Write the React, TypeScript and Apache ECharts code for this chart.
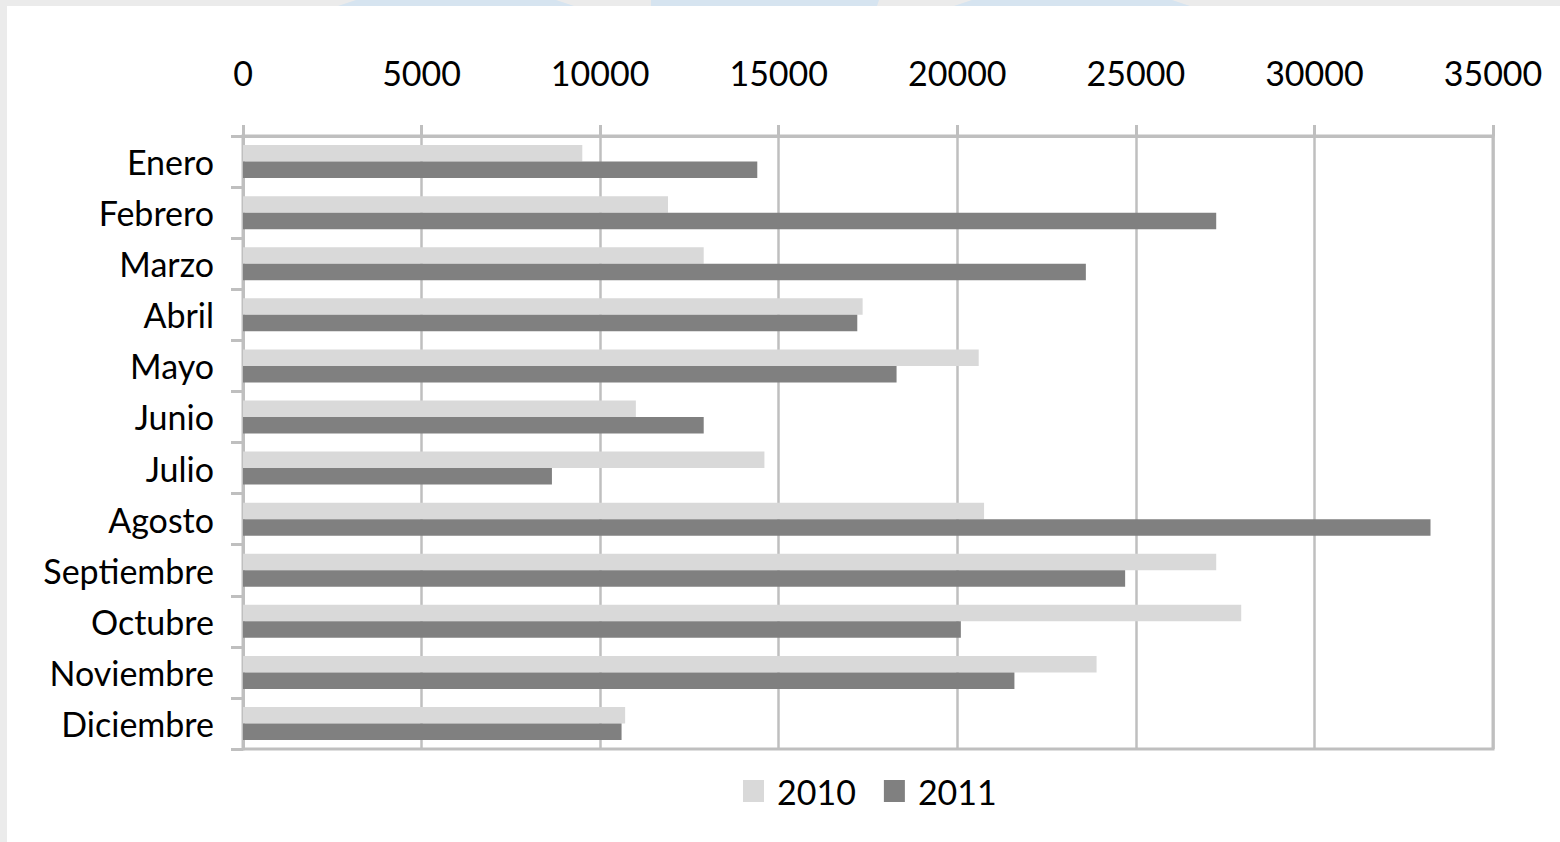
import React, { useEffect, useRef } from "react";
import * as echarts from "echarts";

const months = [
  "Enero", "Febrero", "Marzo", "Abril", "Mayo", "Junio",
  "Julio", "Agosto", "Septiembre", "Octubre", "Noviembre", "Diciembre",
];
const seriesNames = ["2010", "2011"];
const values2010 = [9500, 11900, 12900, 17350, 20600, 11000, 14600, 20750, 27250, 27950, 23900, 10700];
const values2011 = [14400, 27250, 23600, 17200, 18300, 12900, 8650, 33250, 24700, 20100, 21600, 10600];
const axisMin = 0;
const axisMax = 35000;
const axisStep = 5000;

const FONT = "Lato, 'Open Sans', sans-serif";
const GRID_COLOR = "#bfbfbf";

export default function App() {
  const ref = useRef<HTMLDivElement>(null);

  useEffect(() => {
    if (!ref.current) return;
    const chart = echarts.init(ref.current, undefined, { renderer: "svg" });
    chart.setOption({
      animation: false,
      backgroundColor: "#ffffff",
      textStyle: { fontFamily: FONT },
      graphic: [
        { type: "rect", silent: true, z: -10, shape: { x: 0, y: 0, width: 1560, height: 6 }, style: { fill: "#ebebeb" } },
        { type: "rect", silent: true, z: -10, shape: { x: 0, y: 0, width: 7, height: 842 }, style: { fill: "#ebebeb" } },
        { type: "polygon", silent: true, z: -9, shape: { points: [[338, 6], [574, 6], [556, 0], [356, 0]] }, style: { fill: "#d6e4f0" } },
        { type: "polygon", silent: true, z: -9, shape: { points: [[651, 6], [877, 6], [879, 0], [651, 0]] }, style: { fill: "#d6e4f0" } },
        { type: "polygon", silent: true, z: -9, shape: { points: [[954, 6], [1190, 6], [1172, 0], [972, 0]] }, style: { fill: "#d6e4f0" } },
      ],
      color: ["#d9d9d9", "#808080"],
      grid: {
        left: 243,
        right: 67,
        top: 136,
        bottom: 93,
        containLabel: false,
        show: true,
        borderColor: GRID_COLOR,
        borderWidth: 3,
        backgroundColor: "transparent",
      },
      legend: {
        data: seriesNames,
        left: 743,
        top: 774,
        padding: 0,
        itemWidth: 21,
        itemHeight: 22,
        itemGap: 28,
        icon: "rect",
        textStyle: { fontSize: 34, color: "#000", fontFamily: FONT, padding: [0, 0, 0, 8] },
      },
      xAxis: {
        type: "value",
        position: "top",
        min: axisMin,
        max: axisMax,
        interval: axisStep,
        axisLine: { show: true, lineStyle: { color: GRID_COLOR, width: 3 } },
        axisTick: { show: true, length: 11, lineStyle: { color: GRID_COLOR, width: 3 } },
        splitLine: { show: true, lineStyle: { color: GRID_COLOR, width: 2.5 } },
        axisLabel: {
          fontSize: 34,
          color: "#000",
          fontFamily: FONT,
          margin: 47,
          formatter: (v: number) => String(v),
        },
      },
      yAxis: {
        type: "category",
        data: months,
        inverse: true,
        axisLine: { show: true, lineStyle: { color: GRID_COLOR, width: 3 } },
        axisTick: { show: true, length: 12, lineStyle: { color: GRID_COLOR, width: 3 } },
        axisLabel: { fontSize: 34, color: "#000", fontFamily: FONT, margin: 29 },
      },
      series: [
        { name: seriesNames[0], type: "bar", data: values2010, barWidth: 16.5, barGap: "0%" },
        { name: seriesNames[1], type: "bar", data: values2011, barWidth: 16.5, barGap: "0%" },
      ],
    });
    return () => chart.dispose();
  }, []);

  return (
    <div
      ref={ref}
      style={{ position: "absolute", left: 0, top: 0, width: 1560, height: 842 }}
    />
  );
}
